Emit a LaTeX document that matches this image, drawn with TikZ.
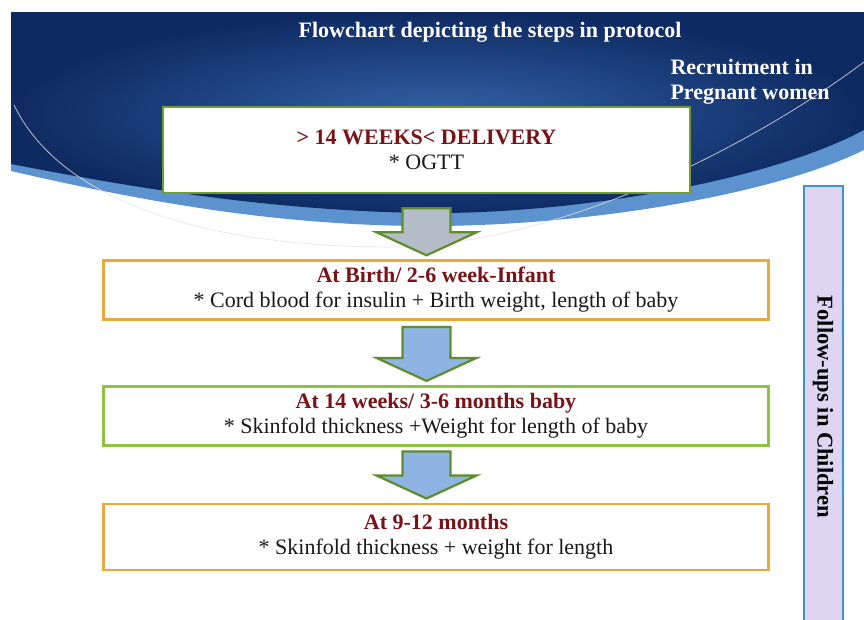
\documentclass[tikz,border=0pt]{standalone}
\usepackage{fontspec}
\setmainfont{Liberation Serif}
\usepackage{xcolor}
\usepackage{tikz}
\usetikzlibrary{arrows.meta,positioning,calc}
\definecolor{bdark}{RGB}{14,42,98}
\definecolor{blight}{RGB}{50,98,166}
\definecolor{bband}{RGB}{92,146,206}
\definecolor{pgreen}{RGB}{112,156,48}
\definecolor{lgreen}{RGB}{140,196,64}
\definecolor{porange}{RGB}{232,170,62}
\definecolor{pred}{RGB}{120,20,24}
\definecolor{agray}{RGB}{180,188,200}
\definecolor{ablue}{RGB}{141,180,226}
\definecolor{agreen}{RGB}{96,140,44}
\definecolor{sblue}{RGB}{62,146,214}
\definecolor{slilac}{RGB}{221,213,242}

% block arrow from box #1 to box #2, fill #3, gap below #1 is #4
\newcommand{\downblock}[4]{%
  \draw[blockarr, fill=#3] ($(b1.south |- #1.south)+(-24,#4)$) -- ($(b1.south |- #1.south)+(24,#4)$)
    -- ($(b1.south |- #2.north)+(24,-27)$) -- ($(b1.south |- #2.north)+(50,-27)$)
    -- ($(b1.south |- #2.north)+(0,-4)$)
    -- ($(b1.south |- #2.north)+(-50,-27)$) -- ($(b1.south |- #2.north)+(-24,-27)$) -- cycle;}

\begin{document}
\begin{tikzpicture}[x=1pt,y=-1pt,font=\fontsize{22}{25}\selectfont,node distance=60pt]
\tikzstyle{stepbox}=[line width=2.6pt, fill=white, align=center, inner sep=4pt, text=black!90]
\tikzstyle{title}=[text=white, font=\fontsize{22}{25}\selectfont\bfseries]
\tikzstyle{blockarr}=[draw=agreen, line width=2.2pt, line join=miter]
\tikzstyle{sidebox}=[draw=sblue, line width=2pt, fill=slilac]

\clip (0,0) rectangle (864,619);
\fill[white] (0,0) rectangle (864,619);

% banner
\fill[bband] (11,162) -- (11,171) .. controls (120,196) and (260,225) .. (420,226)
  .. controls (580,227) and (770,196) .. (864,150) -- (864,125) -- cycle;
\shade[inner color=blight, outer color=bdark] (11,12) -- (864,12) -- (864,130)
  .. controls (760,185) and (560,215) .. (420,213) .. controls (260,210) and (120,185) .. (11,164) -- cycle;
\draw[white!80!gray, line width=0.8pt, opacity=0.8] (14,105) .. controls (60,200) and (200,245) .. (380,247)
  .. controls (560,249) and (760,140) .. (864,62);

\node[title] (head) at (490,32) {Flowchart depicting the steps in protocol};
\node[title, align=left, anchor=north west] (recruit) at (667,56) {Recruitment in\\Pregnant women};

\node[stepbox, draw=pgreen, minimum width=527pt, minimum height=86pt] (b1) at (426.5,150)
  {\textcolor{pred}{\bfseries > 14 WEEKS< DELIVERY}\\* OGTT};
\node[stepbox, draw=porange, minimum width=665pt, minimum height=59pt, below=65pt of b1, xshift=9.5pt] (b2)
  {\textcolor{pred}{\bfseries At Birth/ 2-6 week-Infant}\\* Cord blood for insulin + Birth weight, length of baby};
\node[stepbox, draw=lgreen, minimum width=665pt, minimum height=59pt, below=64pt of b2] (b3)
  {\textcolor{pred}{\bfseries At 14 weeks/ 3-6 months baby}\\* Skinfold thickness +Weight for length of baby};
\node[stepbox, draw=porange, minimum width=665pt, minimum height=66pt, below=56pt of b3] (b4)
  {\textcolor{pred}{\bfseries At 9-12 months}\\* Skinfold thickness + weight for length};

\node[sidebox, minimum width=39pt, minimum height=470pt, anchor=north] (follow) at (823,185) {};
\node[rotate=-90, font=\fontsize{22.5}{25}\selectfont\bfseries] (followtxt) at (823,407) {Follow-ups in Children};

\downblock{b1}{b2}{agray}{14}
\downblock{b2}{b3}{ablue}{6}
\downblock{b3}{b4}{ablue}{5}
\end{tikzpicture}
\end{document}
